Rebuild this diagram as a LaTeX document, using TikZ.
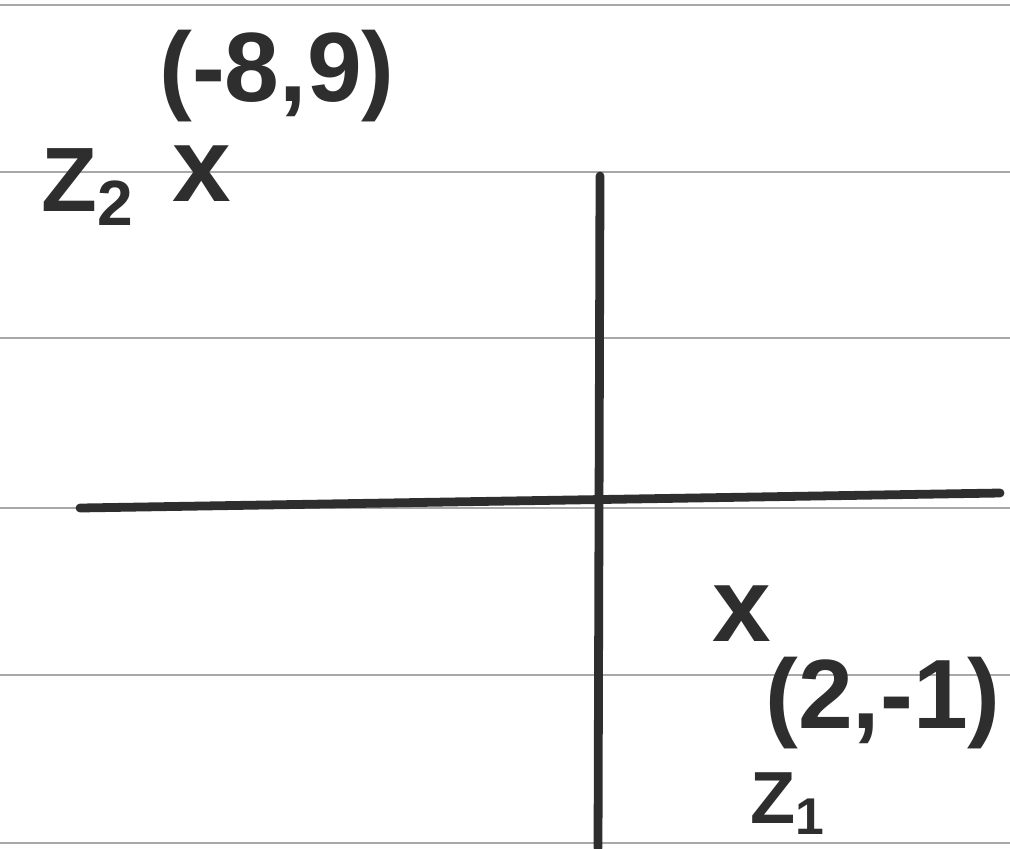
\documentclass[tikz,border=0pt]{standalone}
\usepackage{fontspec}
\setmainfont{Liberation Sans}
\definecolor{ink}{HTML}{2E2E2E}
\definecolor{rule}{HTML}{A8A8A8}
\begin{document}
\begin{tikzpicture}[x=0.01cm,y=-0.01cm,
  ruled/.style={draw=rule,line width=0.6pt},
  axis/.style={draw=ink,line width=2.5pt,line cap=round},
  hand/.style={text=ink,font=\bfseries,inner sep=0pt,anchor=center}]
\useasboundingbox[fill=white] (0,0) rectangle (1010,848);
% ruled paper lines
\foreach \yy in {5,172,338,508,675,843}
  \draw[ruled] (0,\yy) -- (1010,\yy);
% axes
\coordinate (xl) at (80,508);
\coordinate (xr) at (1000,493);
\coordinate (yt) at (600,176);
\coordinate (yb) at (598,848);
\draw[axis] (xl) -- (xr);
\draw[axis] (yt) -- (yb);
% point z2
\node[hand,font=\fontsize{30}{32}\selectfont\bfseries] (m2) at (202,174) {x};
\node[hand,font=\fontsize{28}{30}\selectfont\bfseries] (c2) at (277,76) {(-8,9)};
\node[hand,font=\fontsize{26}{28}\selectfont\bfseries] (z2) at (88,187) {Z\textsubscript{2}};
% point z1
\node[hand,font=\fontsize{30}{32}\selectfont\bfseries] (m1) at (742,614) {x};
\node[hand,font=\fontsize{28}{30}\selectfont\bfseries] (c1) at (883,703) {(2,-1)};
\node[hand,font=\fontsize{21}{23}\selectfont\bfseries] (z1) at (788,804) {Z\textsubscript{1}};
\end{tikzpicture}
\end{document}
